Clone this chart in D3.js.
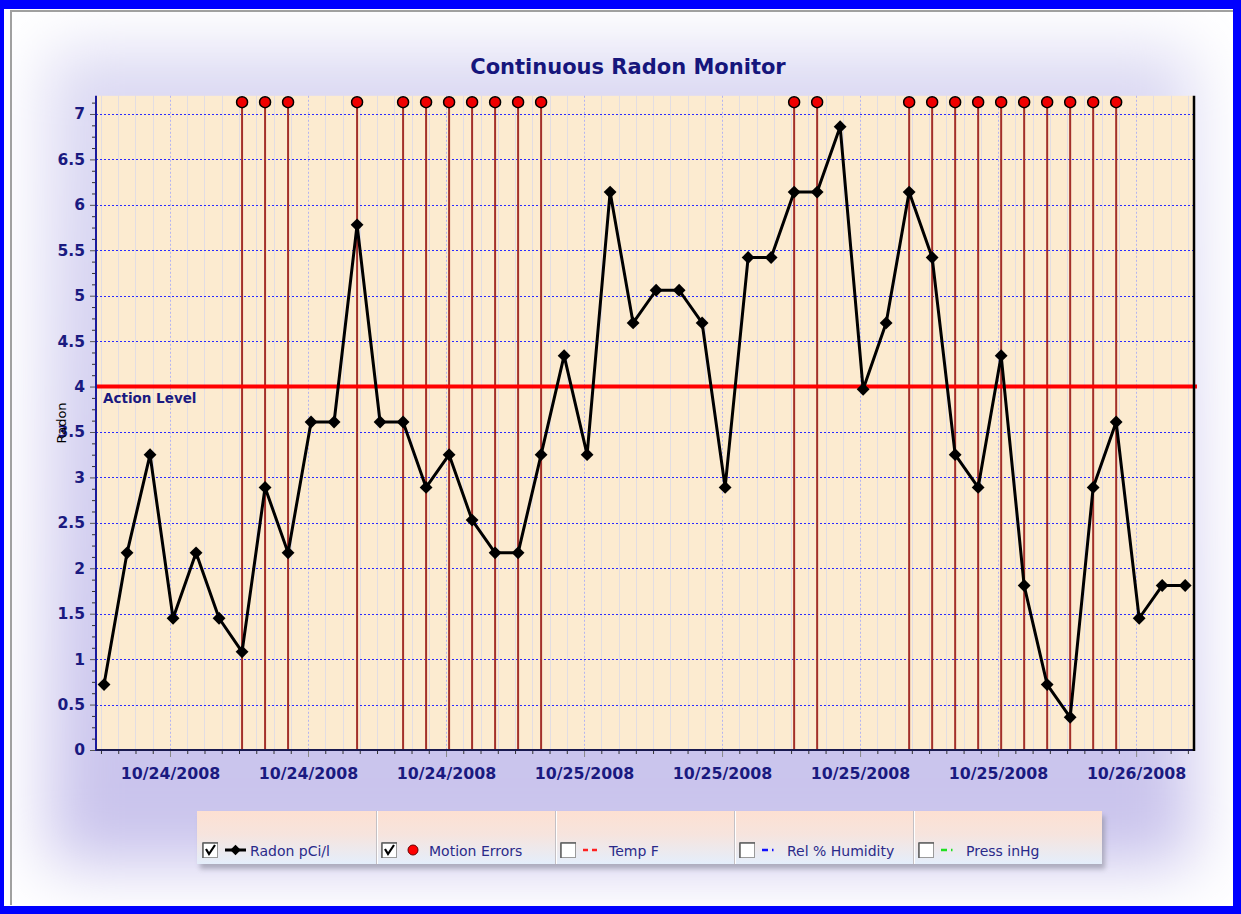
<!DOCTYPE html>
<html><head><meta charset="utf-8">
<script src="https://cdn.jsdelivr.net/npm/d3@7"></script>
<style>body{margin:0;background:#fff}svg{display:block}</style>
</head><body><svg id="chart" width="1241" height="914"></svg>
<script>
// ---------------- data ----------------
const times = [
  "10/24/2008 03:08","10/24/2008 04:08","10/24/2008 05:08","10/24/2008 06:08","10/24/2008 07:08","10/24/2008 08:08",
  "10/24/2008 09:08","10/24/2008 10:08","10/24/2008 11:08","10/24/2008 12:08","10/24/2008 13:08","10/24/2008 14:08",
  "10/24/2008 15:08","10/24/2008 16:08","10/24/2008 17:08","10/24/2008 18:08","10/24/2008 19:08","10/24/2008 20:08",
  "10/24/2008 21:08","10/24/2008 22:08","10/24/2008 23:08","10/25/2008 00:08","10/25/2008 01:08","10/25/2008 02:08",
  "10/25/2008 03:08","10/25/2008 04:08","10/25/2008 05:08","10/25/2008 06:08","10/25/2008 07:08","10/25/2008 08:08",
  "10/25/2008 09:08","10/25/2008 10:08","10/25/2008 11:08","10/25/2008 12:08","10/25/2008 13:08","10/25/2008 14:08",
  "10/25/2008 15:08","10/25/2008 16:08","10/25/2008 17:08","10/25/2008 18:08","10/25/2008 19:08","10/25/2008 20:08",
  "10/25/2008 21:08","10/25/2008 22:08","10/25/2008 23:08","10/26/2008 00:08","10/26/2008 01:08","10/26/2008 02:08"
];
const radon = [
  0.72, 2.17, 3.25, 1.45, 2.17, 1.45,
  1.08, 2.89, 2.17, 3.61, 3.61, 5.78,
  3.61, 3.61, 2.89, 3.25, 2.53, 2.17,
  2.17, 3.25, 4.34, 3.25, 6.14, 4.70,
  5.06, 5.06, 4.70, 2.89, 5.42, 5.42,
  6.14, 6.14, 6.86, 3.97, 4.70, 6.14,
  5.42, 3.25, 2.89, 4.34, 1.81, 0.72,
  0.36, 2.89, 3.61, 1.45, 1.81, 1.81
];
const motionErrorTimes = [
  "10/24/2008 09:08","10/24/2008 10:08","10/24/2008 11:08","10/24/2008 14:08","10/24/2008 16:08","10/24/2008 17:08",
  "10/24/2008 18:08","10/24/2008 19:08","10/24/2008 20:08","10/24/2008 21:08","10/24/2008 22:08",
  "10/25/2008 09:08","10/25/2008 10:08","10/25/2008 14:08","10/25/2008 15:08","10/25/2008 16:08","10/25/2008 17:08",
  "10/25/2008 18:08","10/25/2008 19:08","10/25/2008 20:08","10/25/2008 21:08","10/25/2008 22:08","10/25/2008 23:08"
];
const yTicks = [0, 0.5, 1, 1.5, 2, 2.5, 3, 3.5, 4, 4.5, 5, 5.5, 6, 6.5, 7];
const xDomain = ["10/24/2008 02:47", "10/26/2008 02:31"];
const actionLevel = 4;
const motionMarkerLevel = 7.13;
const legendNames = ["Radon pCi/l", "Motion Errors", "Temp F", "Rel % Humidity", "Press inHg"];
const legendChecked = [true, true, false, false, false];
const legendColors = ["#000000", "#ff0000", "#ff2020", "#1010ff", "#20e020"];

// ---------------- setup ----------------
const W = 1241, H = 914;
const svg = d3.select("#chart");
const defs = svg.append("defs");
const parse = d3.timeParse("%m/%d/%Y %H:%M");
const data = times.map((t, i) => ({t: parse(t), v: radon[i]}));
const motion = motionErrorTimes.map(parse);

const P = {l: 96, r: 1194, t: 95.8, b: 750};
const x = d3.scaleTime().domain(xDomain.map(parse)).range([P.l, P.r]);
const y = d3.scaleLinear().domain([0, 7.2]).range([P.b, P.t]);

// ---------------- frame & background ----------------
svg.append("rect").attr("width", W).attr("height", H).attr("fill", "#0000ff");
svg.append("rect").attr("x", 4).attr("y", 9).attr("width", 1229).attr("height", 897).attr("fill", "#ffffff");
defs.append("clipPath").attr("id", "panelClip").append("rect")
  .attr("x", 12).attr("y", 12).attr("width", 1221).attr("height", 894);
const glowGrad = defs.append("linearGradient").attr("id", "glowGrad").attr("x1", 0).attr("y1", 0).attr("x2", 0).attr("y2", 1);
glowGrad.append("stop").attr("offset", "0%").attr("stop-color", "#dcdaf3");
glowGrad.append("stop").attr("offset", "100%").attr("stop-color", "#c8c2ec");
defs.append("filter").attr("id", "blur").attr("x", "-20%").attr("y", "-20%").attr("width", "140%").attr("height", "140%")
  .append("feGaussianBlur").attr("stdDeviation", 32);
svg.append("g").attr("clip-path", "url(#panelClip)")
  .append("rect").attr("x", 48).attr("y", 50).attr("width", 1145).attr("height", 815)
  .attr("fill", "url(#glowGrad)").attr("filter", "url(#blur)");
// bevel lines
svg.append("path").attr("d", "M11,905 L11,11 L1233,11").attr("fill", "none").attr("stroke", "#a0a0a0").attr("stroke-width", 2);

// title
svg.append("text").attr("x", 628).attr("y", 74).attr("text-anchor", "middle")
  .attr("font-family", "'DejaVu Sans', Verdana, sans-serif").attr("font-weight", "bold").attr("font-size", 21)
  .attr("fill", "#16167c").text("Continuous Radon Monitor");

// ---------------- plot area ----------------
const plot = svg.append("g");
plot.append("rect").attr("x", P.l).attr("y", P.t).attr("width", P.r - P.l).attr("height", P.b - P.t).attr("fill", "#fcebd0");

const major = x.ticks(d3.timeHour.every(6));
const minorBase = major[0];
const minor = d3.range(-6, 70).map(i => d3.timeMinute.offset(minorBase, i * 45))
  .filter(d => d >= x.domain()[0] && d <= x.domain()[1] && !major.some(m => +m === +d));

plot.append("g").selectAll("line").data(minor).join("line")
  .attr("x1", d => Math.round(x(d)) + 0.5).attr("x2", d => Math.round(x(d)) + 0.5)
  .attr("y1", P.t).attr("y2", P.b).attr("stroke", "#e2dde2").attr("stroke-width", 1);
plot.append("g").selectAll("line").data(major).join("line")
  .attr("x1", d => Math.round(x(d)) + 0.5).attr("x2", d => Math.round(x(d)) + 0.5)
  .attr("y1", P.t).attr("y2", P.b).attr("stroke", "#b4b4f0").attr("stroke-width", 1).attr("stroke-dasharray", "2,2");
plot.append("g").selectAll("line").data(yTicks.filter(v => v > 0)).join("line")
  .attr("x1", P.l).attr("x2", P.r).attr("y1", d => Math.round(y(d)) + 0.5).attr("y2", d => Math.round(y(d)) + 0.5)
  .attr("stroke", "#2a2aff").attr("stroke-width", 1).attr("stroke-dasharray", "2,2");

// motion error lines
plot.append("g").selectAll("line").data(motion).join("line")
  .attr("x1", d => x(d)).attr("x2", d => x(d)).attr("y1", y(motionMarkerLevel)).attr("y2", P.b)
  .attr("stroke", "#a3302a").attr("stroke-width", 2);

// action level
plot.append("line").attr("x1", P.l).attr("x2", P.r + 3).attr("y1", y(actionLevel)).attr("y2", y(actionLevel))
  .attr("stroke", "#ff0000").attr("stroke-width", 4);
plot.append("text").attr("x", P.l + 7).attr("y", y(actionLevel) + 16)
  .attr("font-family", "'DejaVu Sans', Verdana, sans-serif").attr("font-weight", "bold").attr("font-size", 13.5)
  .attr("fill", "#1a1a80").text("Action Level");

// radon line
plot.append("path").datum(data)
  .attr("d", d3.line().x(d => x(d.t)).y(d => y(d.v)))
  .attr("fill", "none").attr("stroke", "#000").attr("stroke-width", 3).attr("stroke-linejoin", "round");
plot.append("g").selectAll("path").data(data).join("path")
  .attr("transform", d => `translate(${x(d.t)},${y(d.v)})`)
  .attr("d", d3.symbol(d3.symbolDiamond2, 105)).attr("fill", "#000");

// motion markers
plot.append("g").selectAll("circle").data(motion).join("circle")
  .attr("cx", d => x(d)).attr("cy", y(motionMarkerLevel)).attr("r", 5.5)
  .attr("fill", "#f00000").attr("stroke", "#000").attr("stroke-width", 1.5);

// ---------------- axes ----------------
const numFont = "'DejaVu Sans', Verdana, sans-serif";
const yAxis = svg.append("g").attr("transform", `translate(${P.l},0)`)
  .call(d3.axisLeft(y).tickValues(yTicks).tickSize(6).tickPadding(5).tickFormat(d3.format("")));
yAxis.select(".domain").remove();
yAxis.selectAll(".tick line").attr("stroke", "#555");
yAxis.selectAll("text").attr("font-family", numFont).attr("font-weight", "bold").attr("font-size", 15.5).attr("fill", "#1a1a80");
const yMinor = d3.range(0, 58).map(i => i * 0.125).filter(v => !yTicks.includes(v));
svg.append("g").attr("transform", `translate(${P.l},0)`)
  .call(d3.axisLeft(y).tickValues(yMinor).tickSize(4).tickFormat(""))
  .call(g => g.select(".domain").remove())
  .selectAll(".tick line").attr("stroke", "#333");

const xAxis = svg.append("g").attr("transform", `translate(0,${P.b})`)
  .call(d3.axisBottom(x).tickValues(major).tickSize(7).tickPadding(11).tickFormat(d3.timeFormat("%m/%d/%Y")));
xAxis.select(".domain").remove();
xAxis.selectAll(".tick line").attr("stroke", "#888");
xAxis.selectAll("text").attr("font-family", numFont).attr("font-weight", "bold").attr("font-size", 15.8).attr("fill", "#1a1a80");
svg.append("g").attr("transform", `translate(0,${P.b})`)
  .call(d3.axisBottom(x).tickValues(minor).tickSize(4).tickFormat(""))
  .call(g => g.select(".domain").remove())
  .selectAll(".tick line").attr("stroke", "#333");

svg.append("line").attr("x1", P.l).attr("x2", P.l).attr("y1", P.t).attr("y2", P.b + 1).attr("stroke", "#1a1a9a").attr("stroke-width", 2);
svg.append("line").attr("x1", P.l).attr("x2", P.r).attr("y1", P.b).attr("y2", P.b).attr("stroke", "#1a1a50").attr("stroke-width", 2);
svg.append("line").attr("x1", P.r).attr("x2", P.r).attr("y1", P.t).attr("y2", P.b + 1).attr("stroke", "#000").attr("stroke-width", 2.5);

svg.append("text").attr("transform", `translate(66,423) rotate(-90)`).attr("text-anchor", "middle")
  .attr("font-family", "'DejaVu Sans', sans-serif").attr("font-size", 13).attr("fill", "#000").text("Radon");

// ---------------- legend ----------------
const L = {x: 197, y: 811, w: 905, h: 53};
const legGrad = defs.append("linearGradient").attr("id", "legGrad").attr("x1", 0).attr("y1", 0).attr("x2", 0).attr("y2", 1);
legGrad.append("stop").attr("offset", "0%").attr("stop-color", "#fde0d2");
legGrad.append("stop").attr("offset", "45%").attr("stop-color", "#f6e4de");
legGrad.append("stop").attr("offset", "100%").attr("stop-color", "#e4eefb");
defs.append("filter").attr("id", "shadowBlur").append("feGaussianBlur").attr("stdDeviation", 2.5);
const leg = svg.append("g");
leg.append("rect").attr("x", L.x + 3).attr("y", L.y + 5).attr("width", L.w).attr("height", L.h)
  .attr("fill", "#8a8a9a").attr("opacity", 0.6).attr("filter", "url(#shadowBlur)");
leg.append("rect").attr("x", L.x).attr("y", L.y).attr("width", L.w).attr("height", L.h).attr("fill", "url(#legGrad)");
const cellW = 179;
legendNames.forEach((name, i) => {
  const x0 = L.x + i * cellW;
  if (i > 0) {
    leg.append("line").attr("x1", x0 + 0.5).attr("x2", x0 + 0.5).attr("y1", L.y).attr("y2", L.y + L.h)
      .attr("stroke", "#c4c0c4").attr("stroke-width", 1);
    leg.append("line").attr("x1", x0 + 1.5).attr("x2", x0 + 1.5).attr("y1", L.y).attr("y2", L.y + L.h)
      .attr("stroke", "#ffffff").attr("stroke-width", 1);
  }
  const g = leg.append("g").attr("transform", `translate(${x0},${L.y})`);
  g.append("rect").attr("x", 5.5).attr("y", 31.5).attr("width", 15).attr("height", 15)
    .attr("fill", "#fff").attr("stroke", "#9a9a9a");
  g.append("path").attr("d", "M6,32 L6,47 M6,32 L21,32").attr("stroke", "#606060").attr("stroke-width", 1.5);
  if (legendChecked[i]) {
    g.append("path").attr("d", "M9,38 L12,43 L18,34").attr("fill", "none").attr("stroke", "#000").attr("stroke-width", 2.2);
  }
  const sy = 39;
  let tx;
  if (i === 0) {
    g.append("line").attr("x1", 28).attr("x2", 49).attr("y1", sy).attr("y2", sy).attr("stroke", "#000").attr("stroke-width", 3);
    g.append("path").attr("transform", `translate(38.5,${sy})`).attr("d", d3.symbol(d3.symbolDiamond2, 70)).attr("fill", "#000");
    tx = 53;
  } else if (i === 1) {
    g.append("circle").attr("cx", 37).attr("cy", sy).attr("r", 5).attr("fill", legendColors[i]).attr("stroke", "#600").attr("stroke-width", 1);
    tx = 53;
  } else if (i === 2) {
    g.append("line").attr("x1", 28).attr("x2", 43).attr("y1", sy).attr("y2", sy)
      .attr("stroke", legendColors[i]).attr("stroke-width", 2.5).attr("stroke-dasharray", "5,4");
    tx = 54;
  } else {
    g.append("line").attr("x1", 28).attr("x2", 42).attr("y1", sy).attr("y2", sy)
      .attr("stroke", legendColors[i]).attr("stroke-width", 2.5).attr("stroke-dasharray", "6,4,1.5,4");
    tx = 53;
  }
  g.append("text").attr("x", tx).attr("y", 45).attr("font-family", "'DejaVu Sans', Verdana, sans-serif")
    .attr("font-size", 14).attr("fill", "#2a2a8a").text(name);
});
</script>
</body></html>
